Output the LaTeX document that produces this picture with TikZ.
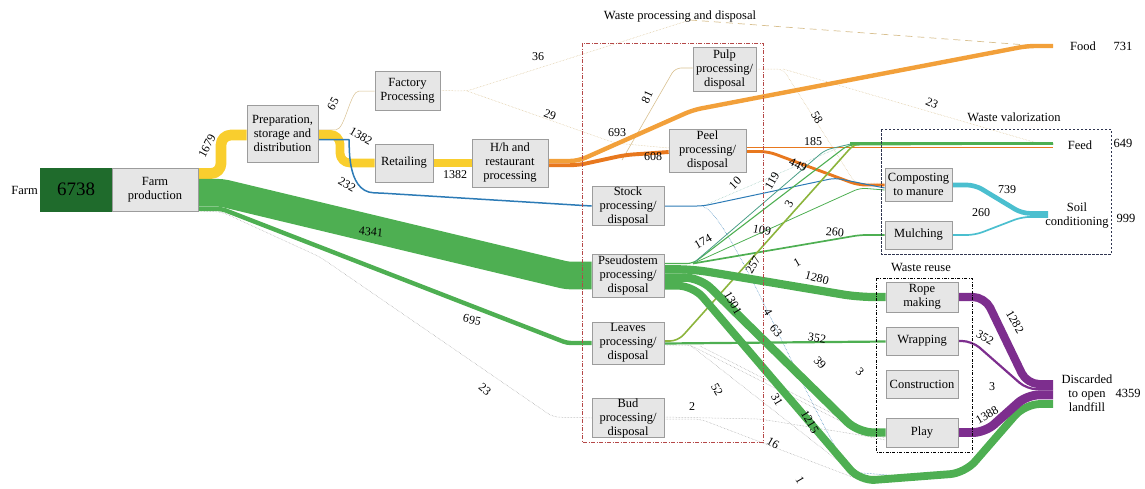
\documentclass[tikz,border=0pt]{standalone}
\usepackage{fontspec}
\setmainfont{Liberation Serif}
\usetikzlibrary{backgrounds,calc}
\definecolor{cfarm}{HTML}{1F6B2C}
\definecolor{cgrn}{HTML}{4EAF52}
\definecolor{cyel}{HTML}{F9CE2E}
\definecolor{clor}{HTML}{F2A03A}
\definecolor{cdor}{HTML}{E8781E}
\definecolor{cblu}{HTML}{2C7BB6}
\definecolor{ccya}{HTML}{4BBFCF}
\definecolor{cpur}{HTML}{7D2E8E}
\definecolor{cboxf}{HTML}{E6E6E6}
\definecolor{cboxd}{HTML}{9C9C9C}
\definecolor{cwred}{HTML}{B54848}
\definecolor{cnavy}{HTML}{2F3550}
\definecolor{ctan}{HTML}{D8C090}
\definecolor{colive}{HTML}{8CB43C}
\definecolor{cteal}{HTML}{4A9E88}
\definecolor{chair}{HTML}{A0A0A0}
\begin{document}
\begin{tikzpicture}[x=1pt,y=-1pt,
  box/.style={draw=cboxd, fill=cboxf, line width=0.7pt, align=center, inner sep=0pt, font=\fontsize{12.5}{14}\selectfont},
  num/.style={font=\fontsize{12}{13}\selectfont, inner sep=0pt},
  txt/.style={font=\fontsize{12.5}{14}\selectfont, inner sep=0pt, align=center},
  band/.style={line cap=butt, line join=round, rounded corners=10pt},
  lnk/.style={line cap=butt, line join=round, rounded corners=6pt},
  hair/.style={line width=0.5pt, chair, densely dotted, rounded corners=6pt},
]
\useasboundingbox (0,0) rectangle (1145,488);

% ---------- nodes ----------
\node[box, fill=cfarm, draw=cfarm, minimum width=72pt, minimum height=43pt, font=\fontsize{19}{22}\selectfont] (farm) at (76,189.5) {6738};
\node[box, minimum width=86pt, minimum height=43pt] (farmprod) at (155,189.5) {Farm\\production};
\node[txt, anchor=east] (farmlab) at (38,190) {Farm};
\node[box, minimum width=71pt, minimum height=57pt] (prep) at (282.5,133.5) {Preparation,\\storage and\\distribution};
\node[box, minimum width=65pt, minimum height=39pt] (factory) at (407.5,90.5) {Factory\\Processing};
\node[box, minimum width=58pt, minimum height=38pt] (retail) at (404,163) {Retailing};
\node[box, minimum width=76pt, minimum height=48pt] (hh) at (510,163) {H/h and\\restaurant\\processing};
\node[box, minimum width=63pt, minimum height=44pt] (pulp) at (724.5,69) {Pulp\\processing/\\disposal};
\node[box, minimum width=77pt, minimum height=43pt] (peel) at (707.5,150.5) {Peel\\processing/\\disposal};
\node[box, minimum width=72pt, minimum height=38pt] (stock) at (628,206) {Stock\\processing/\\disposal};
\node[box, minimum width=72pt, minimum height=43pt] (pseudo) at (628,275.5) {Pseudostem\\processing/\\disposal};
\node[box, minimum width=72pt, minimum height=42pt] (leaves) at (628,343) {Leaves\\processing/\\disposal};
\node[box, minimum width=72pt, minimum height=38pt] (bud) at (628,418) {Bud\\processing/\\disposal};
\node[box, minimum width=67pt, minimum height=33pt] (compost) at (918.5,184.5) {Composting\\to manure};
\node[box, minimum width=67pt, minimum height=28pt] (mulch) at (918.5,235) {Mulching};
\node[box, minimum width=72pt, minimum height=30pt] (rope) at (922,297) {Rope\\making};
\node[box, minimum width=72pt, minimum height=28pt] (wrap) at (922,341) {Wrapping};
\node[box, minimum width=72pt, minimum height=28pt] (constr) at (922,384) {Construction};
\node[box, minimum width=72pt, minimum height=29pt] (play) at (922,432.5) {Play};

\node[txt] (food) at (1083,46) {Food};
\node[txt] (foodv) at (1123,46) {731};
\node[txt] (feed) at (1080,145) {Feed};
\node[txt] (feedv) at (1123,143) {649};
\node[txt] (soil) at (1077,216) {Soil\\conditioning};
\node[txt] (soilv) at (1126,218) {999};
\node[txt] (disc) at (1087,393) {Discarded\\to open\\landfill};
\node[txt] (discv) at (1128,393) {4359};
\coordinate (foodbar) at (1053,46);
\coordinate (feedbar) at (1053,144);
\coordinate (soilbar) at (1048,215);
\coordinate (discbar) at (1053,393);

\node[txt] (wpdlab) at (680,17) {Waste processing and disposal};
\node[txt] (wvlab) at (1014,117) {Waste valorization};
\node[txt] (wrlab) at (921,267) {Waste reuse};

% group frames
\draw[cwred, line width=0.6pt, dash pattern=on 4pt off 1.5pt on 1pt off 1.5pt] (582,43) rectangle (763,442);
\draw[cnavy, line width=0.6pt, dash pattern=on 2.5pt off 1.5pt] (881,129) rectangle (1111,254);
\draw[black, line width=0.6pt, dash pattern=on 3pt off 1.5pt on 0.8pt off 1.5pt] (876,278) rectangle (972,452);

% ---------- flows ----------
\begin{pgfonlayer}{background}
% hairlines
\draw[hair] (farmprod.east |- 0,211) -- (222,212) -- (320,257) -- (553,417) -- (bud.west |- 0,418);
\draw[lnk, ctan, line width=0.5pt] (prep.east |- 0,129.8) -- (330,129.8) .. controls (345,129.8) and (350,91) .. (365,91) -- (factory.west |- 0,91);
\draw[hair, ctan] (factory.east) -- (467,91) -- (690,20);
\draw[ctan, dash pattern=on 7pt off 5pt, line width=0.7pt] (690,20) -- (1027,45) -- (foodbar);
\draw[hair, ctan] (467,91) -- (615,143) -- (peel.west |- 0,148);
\draw[lnk, ctan, line width=0.6pt] (622,160) -- (675,68) -- (pulp.west |- 0,68);
\draw[hair, ctan] (pulp.east |- 0,69) -- (783,69) -- (855,183) -- (compost.west |- 0,183);
\draw[hair, ctan] (783,69) -- (1037,143) -- (feedbar);
\draw[hair, cteal!60] (703,206) -- (845,145);
\draw[lnk, cblu, line width=0.5pt, densely dotted] (703,206.5) .. controls (730,215) and (800,390) .. (850,472) -- (900,476);
\draw[hair] (leaves.east |- 0,345) -- (690,345) -- (858,430) -- (play.west |- 0,438);
\draw[hair] (690,345) -- (860,478) -- (965,470);
\draw[hair] (700,346) -- (855,425);
\draw[hair] (bud.east |- 0,417) -- (760,419) -- (860,435) -- (play.west |- 0,440);
\draw[hair] (bud.east |- 0,419) -- (700,419) -- (860,480);

% main bands
\draw[band, cyel, line width=10.7pt] (farmprod.east |- 0,173.5) -- (221,173.5) -- (221,135) -- (prep.west |- 0,135);
\draw[band, cgrn, line width=27.7pt, rounded corners=4pt] (farmprod.east |- 0,192.8) -- (222,192.8) -- (567,275.5) -- (pseudo.west |- 0,275.5);
\draw[band, cgrn, line width=4.4pt, rounded corners=4pt] (farmprod.east |- 0,209) -- (222,209) -- (567,343) -- (leaves.west |- 0,343);
\draw[band, cyel, line width=8.8pt] (prep.east |- 0,134.4) -- (340,134.4) -- (340,163) -- (retail.west |- 0,163);
\draw[lnk, cblu, line width=1.5pt] (prep.east |- 0,139.6) -- (343,139.6) .. controls (350,139.6) and (345,192) .. (380,193) -- (575,205) -- (stock.west |- 0,206);
\draw[band, cyel, line width=8.8pt] (retail.east) -- (hh.west);
\draw[band, clor, line width=4.4pt, rounded corners=8pt] (hh.east |- 0,161) -- (578,161) -- (693,110) -- (1027,46) -- (foodbar);
\draw[band, cdor, line width=3.9pt, rounded corners=8pt] (hh.east |- 0,165.2) -- (578,165.2) -- (625,155) -- (peel.west |- 0,152);
\draw[lnk, cdor, line width=1.2pt] (peel.east |- 0,147.5) -- (feedbar |- 0,147.5);
\draw[band, cdor, line width=2.9pt, rounded corners=8pt] (peel.east |- 0,151.5) -- (768,151.5) -- (858,185) -- (compost.west |- 0,185);
\draw[lnk, cblu, line width=1pt] (stock.east) -- (703,206) -- (835,178) -- (compost.west |- 0,188);

\coordinate (fan) at (693,263.5);
\draw[lnk, cgrn, line width=1.1pt] (pseudo.east |- 0,263.5) -- (fan) -- (848,145) -- (feedbar);
\draw[lnk, cteal, line width=0.8pt] (fan) -- (825,150) -- (855,143);
\draw[lnk, cgrn, line width=0.8pt] (fan) -- (860,188) -- (compost.west |- 0,190);
\draw[lnk, cgrn, line width=1.7pt] (fan) -- (860,235) -- (mulch.west);
\draw[lnk, colive, line width=1.6pt, rounded corners=8pt] (leaves.east |- 0,341) -- (678,341) -- (855,143) -- (feedbar);
\draw[band, cgrn, line width=3.5pt] (850,143.5) -- (feedbar |- 0,143.5);

\draw[band, cgrn, line width=8.2pt, rounded corners=15pt] (pseudo.east |- 0,269.3) -- (693,269.3) -- (858,297) -- (rope.west);
\draw[band, cgrn, line width=8.3pt, rounded corners=15pt] (pseudo.east |- 0,277.6) -- (700,277.6) -- (858,432.5) -- (play.west);
\draw[band, cgrn, line width=7.8pt, rounded corners=15pt] (pseudo.east |- 0,285.7) -- (693,285.7) -- (860,481) -- (965,473) -- (1025,404) -- (discbar |- 0,404);
\draw[band, cgrn, line width=2.2pt] (leaves.east |- 0,343.5) -- (wrap.west |- 0,341.5);

\draw[band, ccya, line width=4.7pt, rounded corners=8pt] (compost.east |- 0,185) -- (975,185) -- (1022,213.4) -- (soilbar |- 0,213.4);
\draw[band, ccya, line width=1.7pt, rounded corners=8pt] (mulch.east) -- (975,235) -- (1022,216.9) -- (soilbar |- 0,216.9);

\draw[band, cpur, line width=8.2pt, rounded corners=12pt] (rope.east) -- (985,297) -- (1027,384.1) -- (discbar |- 0,384.1);
\draw[band, cpur, line width=2.2pt, rounded corners=10pt] (wrap.east) -- (972,341) -- (1027,389.3) -- (discbar |- 0,389.3);
\draw[band, cpur, line width=8.9pt, rounded corners=12pt] (play.east) -- (985,432.5) -- (1027,394.9) -- (discbar |- 0,394.9);
\end{pgfonlayer}

% ---------- value labels ----------
\node[num, rotate=62] (l1679) at (207,146) {1679};
\node[num, rotate=60] (l65) at (333,104) {65};
\node[num, rotate=-30] (l1382a) at (361,136) {1382};
\node[num, rotate=-30] (l232) at (347,185) {232};
\node[num, rotate=-5] (l4341) at (371,232) {4341};
\node[num, rotate=-12] (l695) at (472,320) {695};
\node[num, rotate=-40] (l23a) at (485,389) {23};
\node[num] (l36) at (538,57) {36};
\node[num, rotate=-20] (l29) at (550,115) {29};
\node[num] (l1382b) at (455,175) {1382};
\node[num] (l693) at (617,133) {693};
\node[num] (l608) at (653,157) {608};
\node[num, rotate=65] (l81) at (647,97) {81};
\node[num, rotate=-60] (l58) at (817,118) {58};
\node[num, rotate=-25] (l23b) at (932,103) {23};
\node[num] (l185) at (813,142) {185};
\node[num, rotate=-25] (l449) at (798,165) {449};
\node[num, rotate=45] (l10) at (735,183) {10};
\node[num, rotate=60] (l119) at (772,181) {119};
\node[num, rotate=60] (l3a) at (789,204) {3};
\node[num, rotate=30] (l174) at (703,242) {174};
\node[num, rotate=-10] (l109) at (762,230) {109};
\node[num, rotate=-5] (l260a) at (835,232) {260};
\node[num, rotate=60] (l257) at (753,265) {257};
\node[num, rotate=30] (l1a) at (797,263) {1};
\node[num, rotate=-15] (l1280) at (817,278) {1280};
\node[num, rotate=-60] (l1301) at (733,303) {1301};
\node[num, rotate=-60] (l4) at (768,312) {4};
\node[num, rotate=-50] (l63) at (776,331) {63};
\node[num, rotate=-10] (l352a) at (817,338) {352};
\node[num, rotate=-45] (l39) at (820,363) {39};
\node[num, rotate=-45] (l3b) at (860,372) {3};
\node[num, rotate=-60] (l52) at (717,390) {52};
\node[num] (l2) at (692,407) {2};
\node[num, rotate=-60] (l31) at (777,400) {31};
\node[num, rotate=-60] (l1215) at (810,422) {1215};
\node[num, rotate=-30] (l16) at (773,443) {16};
\node[num, rotate=-60] (l1b) at (800,480) {1};
\node[num] (l739) at (1007,190) {739};
\node[num] (l260b) at (981,213) {260};
\node[num, rotate=-60] (l1282) at (1015,322) {1282};
\node[num, rotate=-30] (l352b) at (985,338) {352};
\node[num] (l3c) at (992,387) {3};
\node[num, rotate=30] (l1388) at (987,415) {1388};
\end{tikzpicture}
\end{document}
